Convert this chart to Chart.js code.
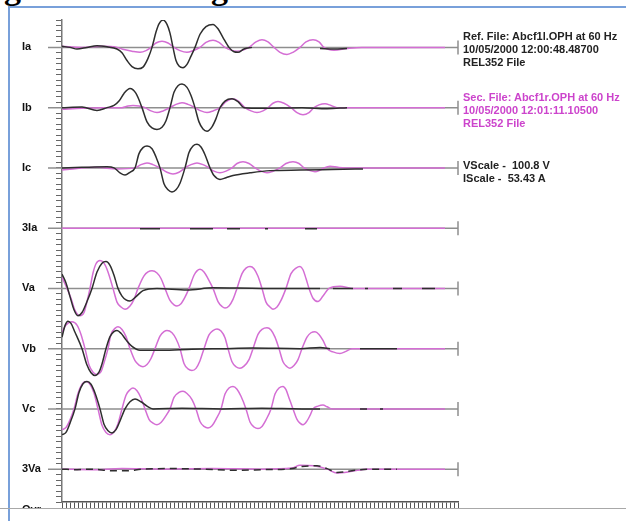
<!DOCTYPE html>
<html>
<head>
<meta charset="utf-8">
<script src="https://cdn.jsdelivr.net/npm/chart.js@4.4.0/dist/chart.umd.min.js"></script>
<style>
html, body { margin: 0; padding: 0; background: #fff; width: 626px; height: 521px; overflow: hidden; position: relative; }
#frame { position: absolute; left: 8px; top: 6px; width: 640px; height: 540px; border-left: 2px solid #78a0da; border-top: 2px solid #78a0da; }
#head { position: absolute; left: 0; top: 0; width: 626px; height: 6px; overflow: hidden; }
#head span { position: absolute; top: -27px; font: bold 34px "Liberation Serif", serif; line-height: 30px; color: #000; }
#wrap { position: absolute; left: 0; top: 0; width: 626px; height: 521px; }
.info { position: absolute; left: 463px; font: bold 11px "Liberation Sans", Arial, sans-serif; line-height: 13px; color: #222; white-space: nowrap; }
.sec { color: #cc44cc; }
</style>
</head>
<body>
<div id="head"><span style="left:4px">g</span><span style="left:211px">g</span></div>
<div id="frame"></div>
<div id="wrap"><canvas id="scope" width="626" height="521"></canvas></div>
<div class="info" style="top:30px">Ref. File: Abcf1l.OPH at 60 Hz<br>10/05/2000 12:00:48.48700<br>REL352 File</div>
<div class="info sec" style="top:91px">Sec. File: Abcf1r.OPH at 60 Hz<br>10/05/2000 12:01:11.10500<br>REL352 File</div>
<div class="info" style="top:159px">VScale -&nbsp; 100.8 V<br>IScale -&nbsp; 53.43 A</div>
<script>
// channel names, top to bottom
const channels = ['Ia', 'Ib', 'Ic', '3Ia', 'Va', 'Vb', 'Vc', '3Va'];
const ticksPerChannel = 11;
const xMax = 396;

// [sample, value] pairs, value in axis divisions; null = trace hidden
const iaRef = [[0,0.2],[8,0],[15,-0.3],[25,0],[35,0.3],[45,0.1],[55,-0.3],[60,-1],[65,-2.4],[70,-3.5],[76,-3.9],[81,-3.6],[86,-2],[90,0],[94,2.8],[97,4.3],[101,5],[105,4.2],[108,2.6],[111,0],[114,-2.4],[117,-3.4],[121,-3.7],[125,-3.1],[129,-1.6],[133,0],[138,2.4],[144,3.8],[151,4.2],[156,3.4],[161,1.8],[167,0],[172,-0.8],[176,-0.9],[182,-0.3],[190,0],[224,null],[258,-0.2],[272,-0.3],[285,-0.2]];
const iaSec = [[0,0.2],[20,0],[40,0.2],[55,0],[62,-0.4],[70,-0.7],[78,-0.9],[84,-0.6],[89,0],[94,0.8],[100,1.1],[106,0.8],[112,0],[118,-0.6],[125,-0.9],[131,-0.6],[138,0],[144,0.9],[151,1.3],[157,0.9],[163,0],[169,-0.5],[175,-0.7],[181,-0.5],[187,0],[194,1],[200,1.4],[206,1],[212,0],[218,-0.9],[225,-1.3],[231,-0.9],[238,0],[244,1],[251,1.4],[257,1],[262,0],[267,-0.4],[272,-0.5],[285,-0.2],[300,0],[383,0]];

const ibRef = [[0,0],[20,0.1],[35,-0.5],[45,0],[52,0.4],[57,1.2],[62,2.6],[68,3.5],[74,2.6],[80,0],[85,-2.6],[90,-3.7],[95,-4],[100,-3.6],[104,-2.4],[108,0],[112,2.8],[116,4],[120,4.3],[125,3.7],[129,2.2],[133,0],[137,-2.6],[141,-3.9],[145,-4.3],[150,-3.5],[154,-2],[158,0],[163,1.2],[170,1.6],[176,1.1],[182,0],[200,-0.1],[240,0],[265,-0.2],[285,0]];
const ibSec = [[0,-0.3],[20,-0.1],[40,0],[60,0],[66,0.3],[71,0.4],[77,0.3],[83,0],[89,-0.6],[95,-0.9],[101,-0.6],[108,0],[114,0.6],[120,0.9],[126,0.6],[133,0],[139,-0.6],[145,-0.9],[151,-0.6],[158,0],[164,1.1],[171,1.6],[177,1.1],[183,0],[189,-0.6],[195,-0.9],[201,-0.6],[206,0],[211,0.8],[216,1.1],[222,0.8],[229,0],[235,-0.9],[241,-1.3],[247,-0.9],[252,0],[257,0.5],[263,0.7],[269,0.4],[275,0],[285,0],[383,0]];

const icRef = [[0,0],[20,0.1],[45,0.2],[52,0],[58,-0.9],[63,-1.3],[68,-0.8],[73,0],[77,2.6],[81,3.7],[85,4],[90,3.5],[94,2],[98,0],[102,-2.9],[106,-4],[110,-4.4],[114,-4],[118,-2.8],[123,0],[127,2.8],[131,4],[135,4.3],[139,3.8],[143,2.4],[148,0],[152,-1.4],[158,-2.1],[164,-1.8],[171,-1.4],[188,-0.9],[208,-0.5],[238,-0.4],[270,-0.3],[301,-0.2]];
const icSec = [[0,-0.4],[15,-0.1],[35,0.1],[55,-0.2],[73,0],[79,0.6],[85,0.9],[91,0.6],[98,0],[105,-0.8],[111,-1.1],[117,-0.8],[123,0],[129,0.6],[135,0.9],[141,0.6],[147,0],[152,-0.6],[158,-0.9],[164,-0.6],[170,0],[175,0.8],[181,1.1],[187,0.8],[193,0],[199,-0.6],[205,-0.9],[211,-0.6],[218,0],[224,0.8],[231,1.1],[237,0.8],[242,0],[248,-0.5],[253,-0.7],[258,-0.4],[262,0],[268,0.3],[276,0.1],[283,0],[383,0]];

const i0Ref = [[78,-0.1],[98,-0.1],[99,null],[128,-0.1],[151,-0.1],[152,null],[165,-0.1],[178,-0.1],[179,null],[203,-0.1],[206,-0.1],[207,null],[243,-0.1],[255,-0.1]];
const i0Sec = [[0,0],[383,0]];

const vaRef = [[0,2.6],[4,1],[8,-1.5],[12,-3.9],[16,-5],[20,-4.4],[25,-2.4],[30,0],[35,3],[40,4.6],[44,4.9],[48,4.2],[52,2.4],[56,0],[60,-1.4],[64,-2.1],[68,-2.3],[74,-1.5],[81,-0.4],[95,0],[125,-0.3],[151,0.1],[200,0],[258,0],[259,null],[271,0],[291,0],[292,null],[303,0],[306,0],[307,null],[331,0],[340,0],[341,null],[360,0],[373,0]];
const vaSec = [[0,2],[5,0],[9,-1.8],[13,-4],[18,-5],[22,-4.4],[25,-2.4],[28,0],[31,2.8],[34,4.5],[38,5.1],[42,4.6],[46,3],[51,0],[55,-2.5],[59,-3.4],[63,-3.8],[68,-3.2],[72,-2],[76,0],[82,2.3],[86,3],[90,3.2],[95,2.8],[99,1.8],[103,0],[108,-2.2],[112,-3],[115,-3.2],[119,-2.8],[123,-1.6],[127,0],[132,2.4],[135,3.2],[138,3.5],[142,3],[146,1.8],[151,0],[156,-2.4],[160,-3.3],[163,-3.6],[167,-3.2],[171,-2],[175,0],[180,2.7],[184,3.7],[188,4],[192,3.6],[196,2.2],[200,0],[204,-2.5],[208,-3.4],[211,-3.8],[215,-3.4],[219,-2.2],[224,0],[229,2.7],[234,3.7],[238,4],[241,3.4],[244,1.8],[247,0],[251,-1.8],[256,-2.4],[261,-1.4],[267,0],[278,0.4],[290,0],[383,0]];

const vbRef = [[0,2.1],[3,4.2],[6,5],[9,4.6],[13,3],[20,0],[25,-3],[29,-4.4],[33,-4.9],[37,-4.3],[40,-2.8],[44,0],[48,2.2],[52,3.1],[55,3.3],[59,2.8],[64,1.6],[70,0.4],[78,-0.3],[100,-0.3],[130,-0.1],[160,0],[190,0.1],[238,0],[258,0.2],[268,0],[269,null],[298,0],[335,0]];
const vbSec = [[0,3],[4,4.3],[10,4.9],[15,4.3],[19,2.6],[23,0],[27,-3],[31,-4.3],[35,-4.7],[39,-4.2],[42,-2.6],[46,0],[49,2.6],[53,3.7],[56,4],[60,3.5],[64,2.2],[68,0],[73,-2.2],[77,-3],[81,-3.3],[85,-2.9],[89,-1.8],[93,0],[98,2.3],[102,3.1],[105,3.3],[110,2.9],[114,1.8],[118,0],[122,-2.7],[126,-3.7],[130,-4],[134,-3.6],[138,-2.2],[142,0],[147,2.5],[151,3.3],[155,3.6],[159,3.2],[163,2],[166,0],[170,-2.4],[174,-3.3],[178,-3.6],[182,-3.2],[187,-2],[191,0],[196,2.6],[200,3.5],[205,3.8],[209,3.4],[213,2.1],[217,0],[221,-2.4],[225,-3.3],[228,-3.6],[232,-3.1],[236,-2],[240,0],[245,2.1],[249,2.9],[253,3.1],[257,2.6],[261,1.5],[265,0],[271,-0.6],[278,-0.9],[284,-0.5],[290,0],[383,0]];

const vcRef = [[0,-4.7],[4,-4.3],[8,-2.6],[13,0],[17,3],[21,4.6],[25,5],[29,4.5],[33,2.9],[38,0],[42,-2.8],[46,-4],[50,-4.4],[54,-3.8],[58,-2.2],[63,0],[68,1.3],[73,1.8],[79,1.3],[85,0.5],[91,0],[120,0.1],[160,0],[200,0.1],[240,0],[258,0],[259,null],[298,0],[305,0],[306,null],[318,0],[321,0]];
const vcSec = [[0,-3.8],[4,-3.4],[8,-2],[12,0],[16,2.8],[20,4.5],[24,5],[28,4.5],[32,2.9],[36,0],[40,-3],[44,-4.3],[48,-4.7],[52,-4.2],[56,-2.7],[60,0],[64,2.5],[68,3.5],[71,3.8],[75,3.3],[79,2],[83,0],[87,-1.9],[91,-2.6],[95,-2.9],[99,-2.5],[103,-1.5],[108,0],[112,2.1],[117,3],[121,3.2],[125,2.8],[130,1.7],[134,0],[138,-2.3],[142,-3.2],[146,-3.5],[150,-3.1],[154,-1.9],[159,0],[163,2.7],[167,3.8],[171,4.1],[175,3.6],[179,2.3],[184,0],[188,-2.4],[192,-3.3],[196,-3.6],[200,-3.2],[204,-2],[209,0],[213,2.7],[217,3.8],[221,4.1],[224,3.5],[227,2],[231,0],[235,-1.9],[238,-2.6],[241,-2.9],[245,-2.2],[248,-1.2],[251,0],[256,0.5],[261,0.7],[265,0.4],[270,0],[278,0],[383,0]];

const v0Ref = [[0,0],[15,-0.1],[30,0],[50,-0.3],[65,-0.3],[80,0],[110,0.1],[140,0],[175,-0.2],[200,-0.1],[230,0.1],[240,0.5],[255,0.6],[265,0.1],[275,-0.6],[290,-0.3],[305,0],[335,0]];
const v0Sec = [[0,0],[30,-0.1],[60,0.1],[100,0],[150,0.1],[200,0],[230,0.2],[238,0.7],[252,0.6],[265,0],[275,-0.7],[290,-0.4],[305,0],[383,0]];

const refSeries = [iaRef, ibRef, icRef, i0Ref, vaRef, vbRef, vcRef, v0Ref];
const secSeries = [iaSec, ibSec, icSec, i0Sec, vaSec, vbSec, vcSec, v0Sec];

const refColor = '#2e2e2e';
const secColor = '#d46ed4';

function offsetOf(i) {
	return (channels.length - 1 - i) * ticksPerChannel + 6;
}

function toPoints(series, off) {
	return series.map(p => ({ x: p[0], y: p[1] === null ? null : p[1] + off }));
}

const datasets = [];
channels.forEach((name, i) => {
	datasets.push({
		label: name + ' ref',
		data: toPoints(refSeries[i], offsetOf(i)),
		borderColor: refColor,
		borderDash: name === '3Va' ? [7, 5] : [],
		order: 0,
	});
	datasets.push({
		label: name + ' sec',
		data: toPoints(secSeries[i], offsetOf(i)),
		borderColor: secColor,
		order: 1,
	});
});

const traceFrame = {
	id: 'traceFrame',
	beforeDatasetsDraw(chart) {
		const { ctx, scales: { x, y } } = chart;
		const xEnd = x.getPixelForValue(xMax);
		ctx.save();
		ctx.strokeStyle = '#8e8e8e';
		ctx.lineWidth = 1.5;
		channels.forEach((name, i) => {
			const py = y.getPixelForValue(offsetOf(i));
			ctx.beginPath();
			ctx.moveTo(x.left - 14, py);
			ctx.lineTo(xEnd, py);
			ctx.moveTo(xEnd, py - 7);
			ctx.lineTo(xEnd, py + 7);
			ctx.stroke();
		});
		ctx.restore();
	},
	afterDraw(chart) {
		const { ctx, scales: { x } } = chart;
		ctx.save();
		// next channel label, mostly hidden below the time axis
		ctx.beginPath();
		ctx.rect(0, 0, chart.width, x.bottom);
		ctx.clip();
		ctx.fillStyle = '#111';
		ctx.font = 'bold 11px "Liberation Sans", Arial, sans-serif';
		ctx.textBaseline = 'alphabetic';
		ctx.fillText('Ovr', 22, x.bottom + 5);
		ctx.restore();
		ctx.save();
		ctx.strokeStyle = '#a8a8a8';
		ctx.lineWidth = 1;
		ctx.beginPath();
		ctx.moveTo(0, x.bottom + 0.5);
		ctx.lineTo(chart.width, x.bottom + 0.5);
		ctx.stroke();
		ctx.restore();
	}
};

new Chart(document.getElementById('scope'), {
	type: 'line',
	data: { datasets: datasets },
	options: {
		responsive: false,
		animation: false,
		devicePixelRatio: 1,
		plugins: {
			legend: { display: false },
			tooltip: { enabled: false },
		},
		layout: {
			padding: { left: 22, top: 20, right: 168, bottom: 13 },
		},
		elements: {
			point: { radius: 0 },
			line: { borderWidth: 1.5, cubicInterpolationMode: 'monotone' },
		},
		scales: {
			x: {
				type: 'linear',
				min: 0,
				max: xMax,
				afterFit: function (scale) { scale.height = 6; },
				border: { color: '#555', width: 1.5 },
				grid: { drawOnChartArea: false, tickLength: 6, color: '#555' },
				ticks: { stepSize: 4, autoSkip: false, maxRotation: 0, callback: function () { return ''; } },
			},
			y: {
				min: 0,
				max: 88,
				afterFit: function (scale) { scale.width = 40; },
				border: { color: '#777', width: 1.5 },
				grid: { drawOnChartArea: false, tickLength: 6, color: '#666' },
				ticks: {
					stepSize: 1,
					autoSkip: false,
					crossAlign: 'far',
					color: '#111',
					font: { family: 'Liberation Sans', size: 11, weight: 'bold' },
					callback: function (value) {
						const i = channels.findIndex((n, k) => offsetOf(k) === value);
						return i >= 0 ? channels[i] : '';
					},
				},
			},
		},
	},
	plugins: [traceFrame],
});
</script>
</body>
</html>
